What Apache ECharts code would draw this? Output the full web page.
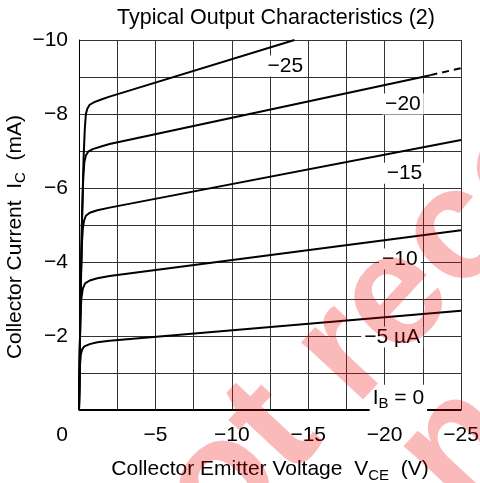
<!DOCTYPE html>
<html>
<head>
<meta charset="utf-8">
<script src="https://cdn.jsdelivr.net/npm/echarts@6/dist/echarts.min.js"></script>
<style>
  html, body { margin: 0; padding: 0; background: #fff; }
  #chart { width: 480px; height: 483px; }
</style>
</head>
<body>
<div id="chart"></div>
<script>
// V_CE (V), I_C (mA)
const ib0 = [[0, 0], [-25, 0]];
const ib5 = [[0, 0], [-0.06, -1.2], [-0.12, -1.5], [-0.2, -1.63], [-0.35, -1.72], [-0.7, -1.78], [-1.2, -1.83], [-2, -1.87], [-25, -2.68]];
const ib10 = [[0, 0], [-0.08, -2.4], [-0.15, -3.0], [-0.25, -3.28], [-0.4, -3.42], [-0.7, -3.5], [-1.2, -3.56], [-2, -3.62], [-25, -4.86]];
const ib15 = [[0, 0], [-0.1, -3.0], [-0.18, -4.4], [-0.25, -4.9], [-0.33, -5.12], [-0.45, -5.25], [-0.7, -5.33], [-1.2, -5.4], [-2, -5.47], [-25, -7.30]];
const ib20 = [[0, 0], [-0.1, -3.0], [-0.2, -5.2], [-0.28, -6.3], [-0.35, -6.7], [-0.45, -6.88], [-0.6, -6.98], [-0.9, -7.05], [-1.5, -7.13], [-2, -7.19], [-23, -9.05]];
const ib20Ext = [[-23, -9.05], [-25, -9.24]];
const ib25 = [[0, 0], [-0.1, -3.0], [-0.2, -5.2], [-0.3, -6.8], [-0.38, -7.6], [-0.45, -8.0], [-0.55, -8.15], [-0.7, -8.25], [-1.0, -8.32], [-1.5, -8.4], [-2, -8.47], [-14.1, -10]];

const curveLabels = ['\u221225', '\u221220', '\u221215', '\u221210', '\u22125 \u00b5A', '{i|I}{sub|B}{i| = 0}'];
const curveLabelPos = [[-13.5, -9.3], [-21.2, -8.27], [-21.3, -6.4], [-21.0, -4.08], [-20.5, -1.97], [-20.9, -0.32]];

const FONT = 'Liberation Sans, Arial, Helvetica, sans-serif';
const FS = 21;
const chart = echarts.init(document.getElementById('chart'));

function curve(data, dashed) {
  return {
    type: 'line',
    data: data,
    showSymbol: false,
    lineStyle: { color: '#000', width: 2, type: dashed ? [7, 5] : 'solid' },
    z: 3,
    silent: true
  };
}

const subRich = {
  t: { fontFamily: FONT, fontSize: FS, color: '#000' },
  i: { fontFamily: FONT, fontSize: FS, color: '#000' },
  sub: { fontFamily: FONT, fontSize: 15, color: '#000', padding: [12, 0, 0, 0] }
};

chart.setOption({
  animation: false,
  title: {
    text: 'Typical Output Characteristics (2)',
    left: 271,
    top: 2,
    textAlign: 'center',
    textStyle: { fontFamily: FONT, fontSize: 21.5, fontWeight: 'normal', color: '#000' }
  },
  grid: { left: 79, right: 19, top: 40, bottom: 73, outerBoundsMode: 'none', containLabel: false },
  xAxis: {
    type: 'value',
    min: -25,
    max: 0,
    interval: 2.5,
    inverse: true,
    name: '{t|Collector Emitter Voltage  V}{sub|CE}{t|  (V)}',
    nameLocation: 'middle',
    nameGap: 46,
    nameTextStyle: { rich: subRich },
    axisLine: { show: true, lineStyle: { color: '#000', width: 1 } },
    axisTick: { show: false },
    splitLine: { show: true, lineStyle: { color: '#333', width: 1 } },
    axisLabel: {
      margin: 15,
      color: '#000',
      fontFamily: FONT,
      fontSize: FS,
      formatter: v => {
        if (v === 0) return '{z|0}';
        if (Math.abs(v) % 5 !== 0) return '';
        return '\u2212' + Math.abs(v);
      },
      rich: { z: { fontFamily: FONT, fontSize: FS, color: '#000', padding: [0, 34, 0, 0] } }
    }
  },
  yAxis: {
    type: 'value',
    min: -10,
    max: 0,
    interval: 1,
    inverse: true,
    axisLine: { show: true, lineStyle: { color: '#000', width: 1 } },
    axisTick: { show: false },
    splitLine: { show: true, lineStyle: { color: '#333', width: 1 } },
    axisLabel: {
      margin: 11,
      color: '#000',
      fontFamily: FONT,
      fontSize: FS,
      formatter: v => (v !== 0 && Math.abs(v) % 2 === 0) ? '\u2212' + Math.abs(v) : ''
    }
  },
  series: [
    curve(ib0), curve(ib5), curve(ib10), curve(ib15), curve(ib20), curve(ib20Ext, true), curve(ib25),
    {
      type: 'scatter',
      symbolSize: 1,
      silent: true,
      z: 4,
      itemStyle: { color: '#fff', opacity: 1 },
      data: curveLabelPos.map((p, i) => ({ value: p, name: curveLabels[i] })),
      label: {
        show: true,
        position: 'inside',
        formatter: p => p.name,
        fontFamily: FONT,
        fontSize: FS,
        color: '#000',
        opacity: 1,
        backgroundColor: '#fff',
        padding: [0, 3],
        rich: subRich
      }
    }
  ],
  graphic: [
    {
      // y axis title, drawn by hand so it sits where the datasheet has it
      type: 'text', x: 15, y: 237, rotation: Math.PI / 2, z: 10, silent: true,
      style: { text: '{t|Collector Current  I}{sub|C}{t|  (mA)}', rich: subRich, align: 'center', verticalAlign: 'middle' }
    },
    {
      type: 'text', x: 111, y: 605, rotation: 47 * Math.PI / 180, z: 100, silent: true,
      style: { text: 'Not recommended', font: 'bold 160px ' + FONT, fill: 'rgba(235,0,0,0.27)', align: 'left', verticalAlign: 'middle' }
    },
    {
      type: 'text', x: 250, y: 670, rotation: 47 * Math.PI / 180, z: 100, silent: true,
      style: { text: 'for new design', font: 'bold 160px ' + FONT, fill: 'rgba(235,0,0,0.27)', align: 'left', verticalAlign: 'middle' }
    }
  ]
});
</script>
</body>
</html>
